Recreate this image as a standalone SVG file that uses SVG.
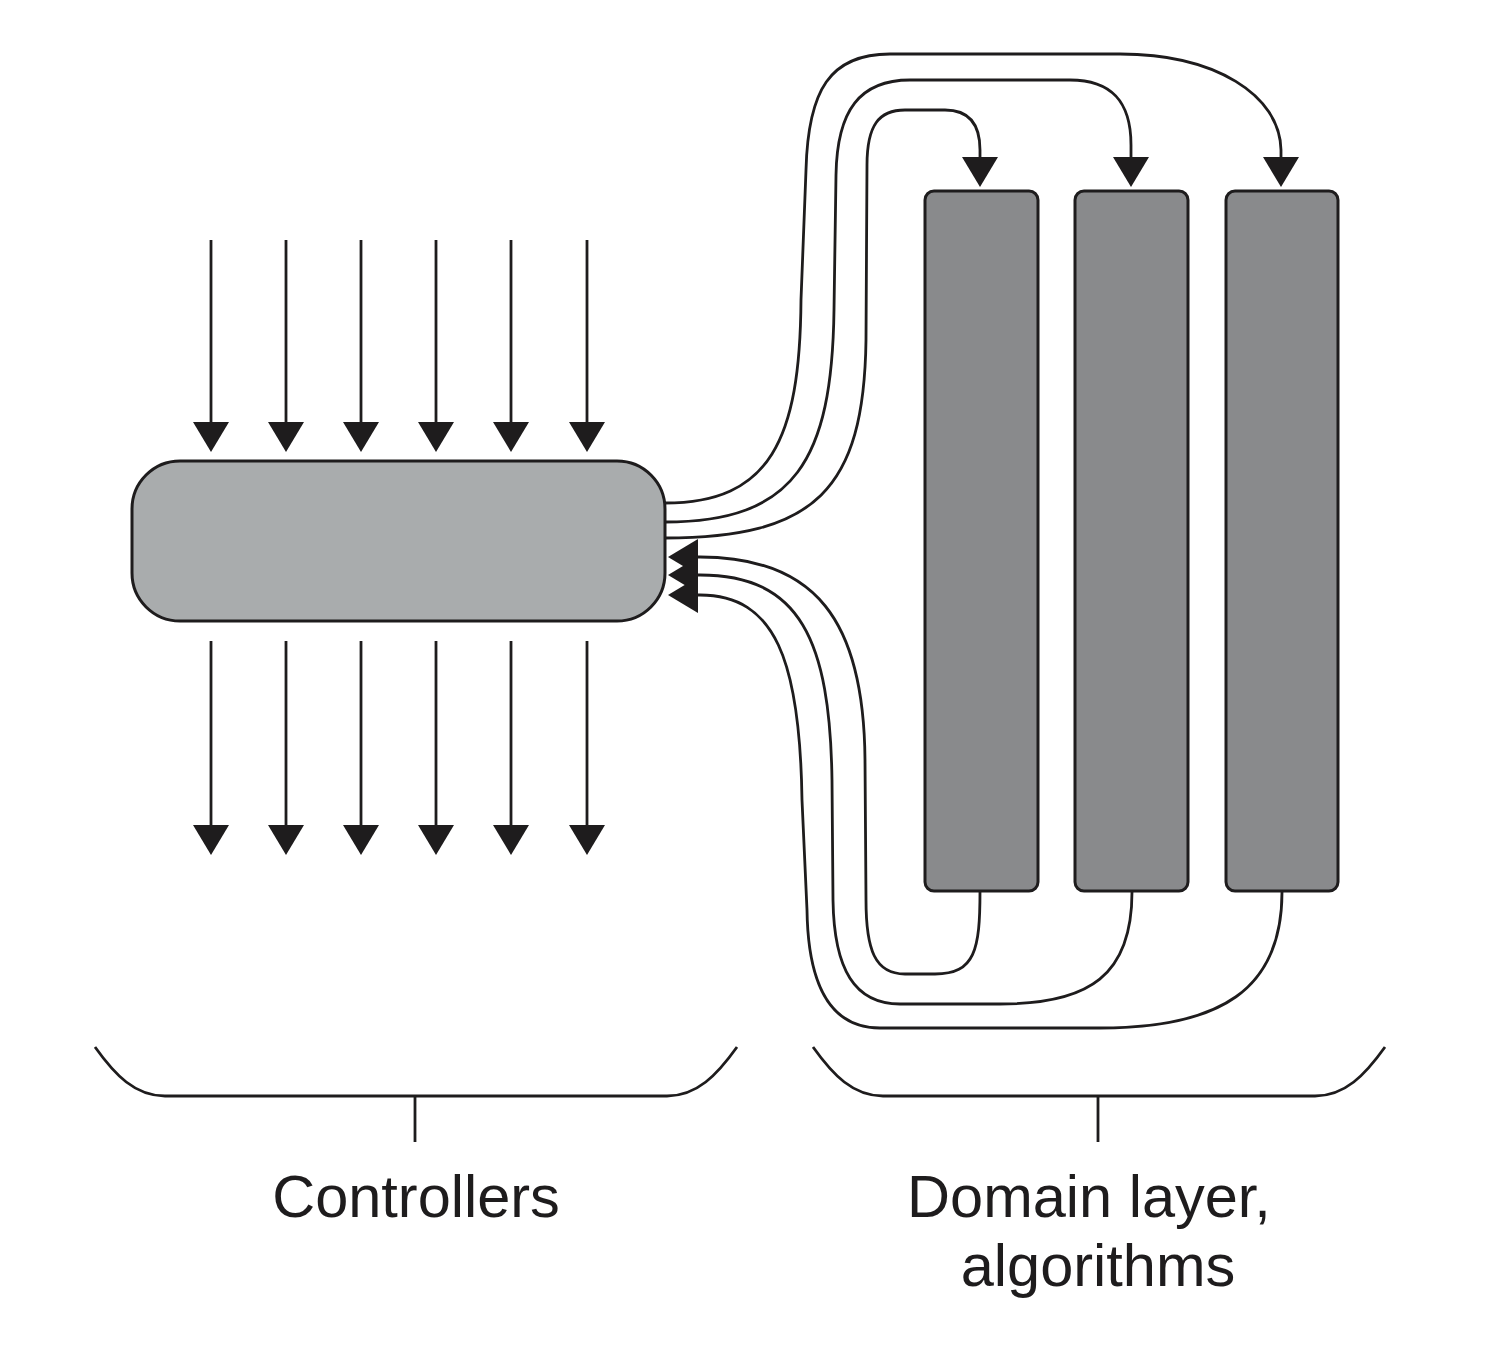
<svg xmlns="http://www.w3.org/2000/svg" width="1504" height="1358" viewBox="0 0 1504 1358">
<style>
.ln{fill:none;stroke:#1e1c1d;stroke-width:2.8}
.ar{fill:none;stroke:#1e1c1d;stroke-width:2.8;marker-end:url(#ah)}
.ctl{fill:#a9acad;stroke:#1e1c1d;stroke-width:3}
.dom{fill:#898a8c;stroke:#1e1c1d;stroke-width:3}
.lbl{font-family:"Liberation Sans",Arial,sans-serif;font-size:59.5px;fill:#1e1c1d;text-anchor:middle}
</style>
<defs>
<marker id="ah" markerUnits="userSpaceOnUse" viewBox="0 0 30 36" markerWidth="30" markerHeight="36" refX="22" refY="18" orient="auto">
<path d="M0,0 L30,18 L0,36 z" fill="#1e1c1d"/>
</marker>
</defs>
<rect width="1504" height="1358" fill="#ffffff"/>

<g id="controllers">
<rect class="ctl" x="132" y="461" width="533" height="160" rx="48" ry="48"/>
</g>
<g id="domain1"><rect class="dom" x="925" y="191" width="113" height="700" rx="9"/></g>
<g id="domain2"><rect class="dom" x="1075" y="191" width="113" height="700" rx="9"/></g>
<g id="domain3"><rect class="dom" x="1226" y="191" width="112" height="700" rx="9"/></g>

<g id="connectors">
<!-- incoming requests -->
<path class="ar" d="M211,240 V444"/>
<path class="ar" d="M286,240 V444"/>
<path class="ar" d="M361,240 V444"/>
<path class="ar" d="M436,240 V444"/>
<path class="ar" d="M511,240 V444"/>
<path class="ar" d="M587,240 V444"/>
<!-- outgoing responses -->
<path class="ar" d="M211,641 V847"/>
<path class="ar" d="M286,641 V847"/>
<path class="ar" d="M361,641 V847"/>
<path class="ar" d="M436,641 V847"/>
<path class="ar" d="M511,641 V847"/>
<path class="ar" d="M587,641 V847"/>
<!-- controller to domain (top) -->
<path class="ar" d="M665,503 C770,503 800,440 801,300 L806,170 C808,90 830,54 890,54 L1120,54 C1215,54 1280,95 1281,150 L1281,179"/>
<path class="ar" d="M665,522 C795,522 832,460 834,310 L836,175 C837,110 860,80 910,80 L1070,80 C1112,80 1131,102 1131,145 L1131,179"/>
<path class="ar" d="M665,538 C815,538 864,490 866,340 L867,165 C867,125 879,110 905,110 L945,110 C970,110 980,125 980,150 L980,179"/>
<!-- domain back to controller (bottom) -->
<path class="ar" d="M980,891 C980,950 975,974 935,974 L905,974 C875,974 866,950 866,900 L865,760 C864,620 815,557 700,557 L676,557"/>
<path class="ar" d="M1132,892 C1132,975 1090,1004 1000,1004 L900,1004 C855,1004 834,970 833,900 L832,780 C830,640 800,575 700,575 L676,575"/>
<path class="ar" d="M1282,892 C1282,990 1220,1028 1100,1028 L880,1028 C830,1028 808,985 807,910 L802,800 C800,660 775,595 700,595 L676,595"/>
</g>

<g id="brace-controllers">
<path class="ln" d="M95,1047 C115,1075 135,1096 165,1096 L667,1096 C697,1096 717,1075 737,1047"/>
<path class="ln" d="M415,1096 V1142"/>
<text class="lbl" x="416" y="1217">Controllers</text>
</g>
<g id="brace-domain">
<path class="ln" d="M813,1047 C833,1075 853,1096 883,1096 L1315,1096 C1345,1096 1365,1075 1385,1047"/>
<path class="ln" d="M1098,1096 V1142"/>
<text class="lbl" x="1089" y="1217">Domain layer,</text>
<text class="lbl" x="1098" y="1286">algorithms</text>
</g>
</svg>
